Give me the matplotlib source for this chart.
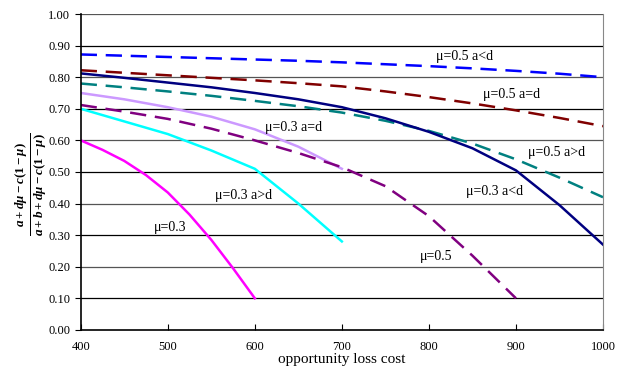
import matplotlib
matplotlib.use('Agg')
import matplotlib.pyplot as plt
import numpy as np

plt.rcParams['font.family'] = ['Liberation Serif', 'DejaVu Serif']
plt.rcParams['mathtext.fontset'] = 'custom'
plt.rcParams['mathtext.rm'] = 'Liberation Serif:bold'
plt.rcParams['mathtext.it'] = 'Liberation Serif:italic:bold'

# opportunity loss cost
x_full = [400, 450, 500, 550, 600, 650, 700, 750, 800, 850, 900, 950, 1000]
x_700 = [400, 450, 500, 550, 600, 650, 700]
x_900 = [400, 450, 500, 550, 600, 650, 700, 750, 800, 850, 900]
x_600 = [400, 425, 450, 475, 500, 525, 550, 575, 600]

mu05_altd = [0.872, 0.868, 0.864, 0.860, 0.856, 0.852, 0.847, 0.841, 0.835, 0.828, 0.820, 0.811, 0.800]
mu05_aeqd = [0.822, 0.814, 0.806, 0.798, 0.790, 0.781, 0.771, 0.755, 0.737, 0.717, 0.695, 0.671, 0.645]
mu03_altd = [0.812, 0.798, 0.783, 0.768, 0.750, 0.730, 0.705, 0.670, 0.627, 0.575, 0.505, 0.395, 0.270]
mu05_agtd = [0.780, 0.768, 0.755, 0.741, 0.725, 0.708, 0.688, 0.662, 0.630, 0.590, 0.540, 0.482, 0.420]
mu03_aeqd = [0.750, 0.730, 0.705, 0.675, 0.635, 0.580, 0.510]
mu05 = [0.712, 0.691, 0.668, 0.637, 0.600, 0.560, 0.515, 0.455, 0.360, 0.235, 0.100]
mu03_agtd = [0.700, 0.660, 0.620, 0.568, 0.510, 0.400, 0.280]
mu03 = [0.600, 0.570, 0.535, 0.490, 0.435, 0.365, 0.285, 0.195, 0.100]

fig = plt.figure(figsize=(6.21, 3.69), dpi=100)
ax = fig.add_axes([0.130, 0.106, 0.841, 0.856])

for yv in np.arange(0.1, 1.01, 0.1):
    ax.axhline(yv, color='black' if round(yv * 10) % 2 else '#555555', lw=0.9, zorder=1)

dash = dict(lw=1.8, dashes=(6.5, 3.5))
ax.plot(x_full, mu05_altd, color='#0000FF', **dash)
ax.plot(x_full, mu05_aeqd, color='#800000', **dash)
ax.plot(x_full, mu05_agtd, color='#008080', **dash)
ax.plot(x_full, mu03_altd, color='#000080', lw=1.8)
ax.plot(x_700, mu03_aeqd, color='#CC99FF', lw=1.8)
ax.plot(x_900, mu05, color='#800080', **dash)
ax.plot(x_700, mu03_agtd, color='#00FFFF', lw=1.8)
ax.plot(x_600, mu03, color='#FF00FF', lw=1.8)

labels = [
    ('μ=0.5 a<d', 841, 0.867),
    ('μ=0.5 a=d', 895, 0.744),
    ('μ=0.5 a>d', 947, 0.563),
    ('μ=0.3 a<d', 875, 0.437),
    ('μ=0.3 a=d', 644, 0.642),
    ('μ=0.3 a>d', 587, 0.427),
    ('μ=0.3', 503, 0.323),
    ('μ=0.5', 808, 0.231),
]
for txt, lx, ly in labels:
    ax.text(lx, ly, txt, fontsize=10, ha='center', va='center', zorder=3)

ax.set_xlim(400, 1000)
ax.set_ylim(0, 1)
ax.set_xticks(range(400, 1001, 100))
ax.set_yticks(np.arange(0, 1.01, 0.1))
ax.set_yticklabels(['%.2f' % v for v in np.arange(0, 1.01, 0.1)])
ax.tick_params(axis='x', direction='in', length=4, labelsize=9, pad=8)
ax.tick_params(axis='y', direction='out', length=4, labelsize=9)
ax.spines['top'].set_visible(False)
ax.spines['right'].set_color('#888888')
ax.spines['left'].set_linewidth(1.2)
ax.spines['bottom'].set_linewidth(1.2)
ax.set_xlabel('opportunity loss cost', fontsize=11, labelpad=0)

fig.text(0.050, 0.50, r'$\frac{a+d\mu-c(1-\mu)}{a+b+d\mu-c(1-\mu)}$',
         rotation=90, ha='center', va='center', fontsize=13.5)

plt.savefig('out.png', dpi=100)
